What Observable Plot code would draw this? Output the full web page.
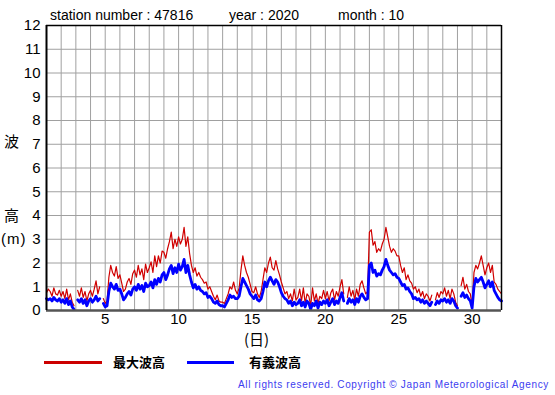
<!DOCTYPE html>
<html><head><meta charset="utf-8">
<script src="https://cdn.jsdelivr.net/npm/d3@7"></script>
<script src="https://cdn.jsdelivr.net/npm/@observablehq/plot@0.6"></script>
<style>
body{margin:0;background:#fff;}
#wrap{position:relative;width:555px;height:395px;font-family:"Liberation Sans",Arial,sans-serif;color:#000;overflow:hidden;}
.abs{position:absolute;white-space:nowrap;line-height:1;}
</style></head><body><div id="wrap"></div>
<script>
// 3-hourly values, 8 per day starting Oct 1 00h, last value = Nov 1 00h
const significant = [
  0.5,0.45,0.5,0.4,0.55,0.45,0.4,0.5,
  0.35,0.45,0.3,0.5,0.25,0.4,0.15,0.05,
  null,0.45,0.35,0.5,0.3,0.45,0.2,0.4,
  0.5,0.35,0.45,0.6,0.4,0.5,null,0.3,
  0.15,0.2,0.8,1.15,1.0,0.9,1.1,0.85,
  0.9,0.7,0.45,0.55,0.7,0.8,0.65,0.9,
  1.0,0.85,1.1,0.9,1.05,0.8,1.15,1.0,
  1.05,1.2,0.95,1.3,1.1,1.35,1.2,1.5,
  1.6,1.3,1.5,1.75,1.9,1.55,1.8,1.6,
  1.95,1.7,1.85,2.15,1.6,1.9,1.5,1.2,
  0.95,1.1,0.9,1.0,0.85,0.8,0.7,0.75,
  0.55,0.6,0.5,0.35,0.3,0.4,0.25,0.2,
  0.2,0.15,0.3,0.45,0.65,0.55,0.6,0.5,
  0.5,0.6,1.0,1.35,1.2,1.05,0.9,0.7,
  0.6,0.5,0.65,0.45,0.4,0.5,0.8,1.2,
  1.0,1.25,1.4,1.25,1.1,1.3,1.2,1.0,
  0.75,0.6,0.5,0.45,0.3,0.4,0.2,0.35,
  0.25,0.3,0.45,0.2,0.35,0.15,0.4,0.3,
  0.05,0.3,0.2,0.4,0.1,0.35,0.25,0.4,
  0.3,0.45,0.2,0.35,0.5,0.25,0.4,0.3,
  0.55,0.75,0.4,null,0.3,0.5,0.35,0.45,
  0.25,0.5,0.35,0.6,0.7,0.55,0.45,0.5,
  1.9,2.0,1.6,1.7,1.45,1.55,1.5,1.7,
  1.85,2.15,1.9,1.7,1.6,1.5,1.55,1.4,
  1.35,1.2,1.05,1.1,0.9,0.95,0.8,0.7,
  0.5,0.55,0.45,0.5,0.35,0.45,0.3,0.4,
  0.3,0.2,0.35,null,0.25,0.4,0.3,0.45,
  0.4,0.5,0.35,0.45,0.3,0.5,0.4,0.2,
  0.1,null,0.6,0.75,0.55,0.65,0.5,0.4,
  0.1,1.0,1.35,1.2,1.3,1.4,1.2,0.95,
  1.1,1.25,1.0,1.2,0.85,0.7,0.55,0.45,
  0.4
];
const maximum = [
  0.75,0.9,0.8,0.6,0.95,0.7,0.65,0.85,
  0.6,0.8,0.5,0.9,0.45,0.7,0.35,0.2,
  null,0.85,0.6,0.95,0.55,0.8,0.4,0.7,
  0.85,0.6,0.9,1.25,0.7,1.0,null,0.5,
  0.3,0.4,1.4,1.9,1.6,1.45,1.85,1.35,
  1.5,1.15,0.8,0.9,1.2,1.35,1.1,1.55,
  1.7,1.4,1.9,1.5,1.75,1.3,1.95,1.6,
  1.8,2.05,1.6,2.3,1.85,2.3,2.0,2.5,
  2.45,2.2,2.6,2.9,3.3,2.6,3.0,2.7,
  3.1,2.8,3.0,3.5,2.7,3.1,2.4,1.9,
  1.6,1.8,1.45,1.6,1.4,1.3,1.15,1.2,
  0.9,1.0,0.8,0.6,0.45,0.65,0.4,0.35,
  0.35,0.3,0.5,0.7,1.0,0.9,1.2,0.85,
  0.7,0.95,1.7,2.3,1.9,1.6,1.4,1.1,
  0.8,0.75,1.0,0.7,0.55,0.8,1.3,1.8,
  1.6,2.0,2.25,1.8,1.7,2.1,1.75,1.5,
  1.2,0.95,0.7,0.8,0.5,0.7,0.4,0.9,
  0.45,0.55,0.9,0.4,0.95,0.3,0.7,0.6,
  0.2,0.95,0.4,0.7,0.3,0.6,0.5,0.85,
  0.5,0.8,0.4,0.75,0.9,0.45,0.8,0.6,
  1.0,1.3,0.7,null,0.55,1.0,0.6,0.85,
  0.45,0.9,0.6,1.1,1.25,0.95,0.7,0.8,
  3.3,3.4,2.75,2.9,2.45,2.6,2.5,2.8,
  3.0,3.5,3.1,2.7,2.45,2.6,2.5,2.3,
  2.3,1.9,1.6,1.8,1.3,1.5,1.25,1.15,
  0.9,1.0,0.75,0.9,0.6,0.8,0.5,0.7,
  0.6,0.4,0.65,null,0.45,0.75,0.55,0.8,
  0.7,0.95,0.6,0.85,0.5,0.9,0.7,0.35,
  0.2,null,1.05,1.4,0.9,1.1,0.8,0.7,
  0.2,1.6,1.9,1.75,2.0,2.3,1.9,1.5,
  1.8,2.0,1.6,1.9,1.2,1.1,0.9,0.8,
  0.7
];
const yTicks = [0,1,2,3,4,5,6,7,8,9,10,11,12];
const xTicks = [5,10,15,20,25,30];
const dayGrid = d3.range(1, 33);
const stationText = "station number : 47816";
const yearText = "year : 2020";
const monthText = "month : 10";
const legendMax = "最大波高";
const legendSig = "有義波高";
const xLabel = "(日)";
const yLabelParts = ["波", "高", "(m)"];
const copyright = "All rights reserved. Copyright © Japan Meteorological Agency";

const rows = significant.map((s, i) => ({day: 1 + i / 8, sig: s, max: maximum[i]}));

const chart = Plot.plot({
  width: 555,
  height: 345,
  marginLeft: 46,
  marginRight: 54,
  marginTop: 25,
  marginBottom: 35,
  style: {fontFamily: "'Liberation Sans', Arial, sans-serif", fontSize: "15px", color: "#000", background: "transparent", overflow: "visible"},
  x: {domain: [1, 32]},
  y: {domain: [0, 12]},
  marks: [
    Plot.gridX(dayGrid, {stroke: "#a0a0a0", strokeOpacity: 1}),
    Plot.gridY(yTicks, {stroke: "#a0a0a0", strokeOpacity: 1}),
    Plot.line(rows, {x: "day", y: "max", stroke: "#d00000", strokeWidth: 1.2}),
    Plot.line(rows, {x: "day", y: "sig", stroke: "#0000ff", strokeWidth: 2.8}),
    Plot.ruleX([32], {stroke: "#000", strokeWidth: 1.5}),
    Plot.ruleY([12], {stroke: "#000", strokeWidth: 1.5}),
    Plot.ruleY([0], {stroke: "#555", strokeWidth: 2.5}),
    Plot.ruleX([1], {stroke: "#000", strokeWidth: 2}),
    Plot.axisY({ticks: yTicks, tickSize: 0, tickPadding: 6, label: null, fontSize: 15}),
    Plot.axisX({ticks: xTicks, tickSize: 0, tickPadding: 3, label: null, fontSize: 15})
  ]
});

const wrap = document.getElementById("wrap");
chart.style.position = "absolute";
chart.style.left = "0px";
chart.style.top = "0px";
wrap.appendChild(chart);

function addText(txt, left, top, css) {
  const d = document.createElement("div");
  d.className = "abs";
  d.textContent = txt;
  d.style.left = left + "px";
  d.style.top = top + "px";
  Object.assign(d.style, css || {});
  wrap.appendChild(d);
  return d;
}
function addLine(left, top, w, color) {
  const d = document.createElement("div");
  d.style.position = "absolute";
  d.style.left = left + "px";
  d.style.top = top + "px";
  d.style.width = w + "px";
  d.style.height = "3px";
  d.style.background = color;
  wrap.appendChild(d);
}
const tStyle = {fontSize: "14px"};
addText(stationText, 50, 8, tStyle);
addText(yearText, 229, 8, tStyle);
addText(monthText, 338, 8, tStyle);
const cjk = "'Noto Sans CJK JP', sans-serif";
addText(yLabelParts[0], 4, 133, {fontSize: "15px", fontFamily: cjk});
addText(yLabelParts[1], 4, 207, {fontSize: "15px", fontFamily: cjk});
addText(yLabelParts[2], 1, 231, {fontSize: "15px", letterSpacing: "1px"});
addText(xLabel, 244, 331, {fontSize: "15px", fontFamily: cjk});
addLine(44, 361, 58, "#cc0000");
addText(legendMax, 113, 355, {fontSize: "13px", fontWeight: "bold", fontFamily: cjk});
addLine(187, 361, 47, "#0000ff");
addText(legendSig, 249, 355, {fontSize: "13px", fontWeight: "bold", fontFamily: cjk});
const c = addText(copyright, 0, 380, {fontSize: "10px", letterSpacing: "0.65px", color: "#3c3cf0"});
c.style.left = "auto";
c.style.right = "6px";
</script></body></html>
